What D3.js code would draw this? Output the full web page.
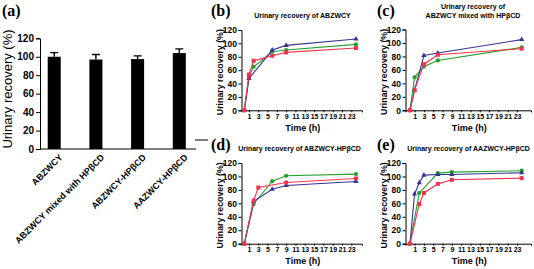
<!DOCTYPE html>
<html>
<head>
<meta charset="utf-8">
<script src="https://cdn.jsdelivr.net/npm/d3@7"></script>
<style>
  body { margin: 0; background: #fff; }
  svg { display: block; }
  text { font-family: "Liberation Sans", Arial, sans-serif; fill: #000; }
  .serif { font-family: "Liberation Serif", "Times New Roman", serif; font-weight: bold; }
  .domain, .tick line { stroke: #000; }
</style>
</head>
<body>
<div id="chart"></div>
<script>
// bar panel (a)
var barLabels = ["ABZWCY", "ABZWCY mixed with HPβCD", "ABZWCY-HPβCD", "AAZWCY-HPβCD"];
var barMeans = [100, 97, 97.5, 104];
var barErrs = [4.5, 5.5, 3.5, 4.5];
var yTicks = [0, 20, 40, 60, 80, 100, 120];
var xTicks = [1, 3, 5, 7, 9, 11, 13, 15, 17, 19, 21, 23];

// time course panels (b)-(e)
var timesB = [0, 1, 2, 6, 9, 24];
var redB = [0, 53.5, 74, 81.5, 86.5, 93];
var greenB = [0, 50, 65, 87.5, 90, 98.5];
var blueB = [0, 47.5, null, 90, 97, 106.5];

var timesC = [0, 1, 3, 6, 24];
var redC = [0, 30, 68.5, 82.5, 91.5];
var greenC = [0, 49, 65, 74, 93.5];
var blueC = [0, 30, 81.5, 85, 105];

var timesD = [0, 2, 3, 6, 9, 24];
var redD = [0, 64, 83.5, null, 91, 97];
var greenD = [0, 59, null, 93, 101, 103.5];
var blueD = [0, 63, null, 81, 86.5, 92.5];

var timesE = [0, 1, 2, 3, 6, 9, 24];
var redE = [0, null, 59, 75.5, 89, 95, 97.5];
var greenE = [0, null, 75.5, null, 105, 106.5, 108.5];
var blueE = [0, 74, 90.5, 102, 103, 103, 105.5];

var RED = "#f2334f", GREEN = "#23a02a", BLUE = "#343494";

var svg = d3.select("#chart").append("svg")
    .attr("width", 534)
    .attr("height", 269);

// ---------- panel (a) ----------
var xBand = d3.scaleBand()
    .domain(barLabels)
    .range([40, 193.5])
    .paddingInner(0.688)
    .paddingOuter(0.185);
var yBar = d3.scaleLinear().domain([0, 120]).range([149, 38.3]);

var gA = svg.append("g");
gA.append("g")
    .attr("transform", "translate(40,0)")
    .call(d3.axisLeft(yBar).tickValues(yTicks).tickSize(4).tickPadding(2))
    .call(g => g.selectAll("text").style("font-size", "10px").style("font-weight", "bold"));
gA.append("line")
    .attr("x1", 40).attr("x2", 196)
    .attr("y1", yBar(0)).attr("y2", yBar(0))
    .attr("stroke", "#000");

// error bars (up only)
gA.selectAll(".err")
    .data(barLabels)
    .enter().append("path")
    .attr("d", (d, i) => {
        var cx = xBand(d) + xBand.bandwidth() / 2;
        var top = yBar(barMeans[i] + barErrs[i]);
        return `M${cx},${yBar(barMeans[i])}V${top}M${cx - 4},${top}H${cx + 4}`;
    })
    .attr("stroke", "#000")
    .attr("stroke-width", 1.4)
    .attr("fill", "none");

gA.selectAll(".bar")
    .data(barLabels)
    .enter().append("rect")
    .attr("x", d => xBand(d))
    .attr("y", (d, i) => yBar(barMeans[i]))
    .attr("width", xBand.bandwidth())
    .attr("height", (d, i) => yBar(0) - yBar(barMeans[i]))
    .attr("fill", "#000");

gA.selectAll(".xlab")
    .data(barLabels)
    .enter().append("text")
    .attr("transform", d => `translate(${xBand(d) + xBand.bandwidth() / 2 + 9},158) rotate(-45)`)
    .attr("text-anchor", "end")
    .style("font-size", "9px")
    .style("font-weight", "bold")
    .text(d => d);

gA.append("text")
    .attr("transform", "translate(12,89) rotate(-90)")
    .attr("text-anchor", "middle")
    .style("font-size", "13px")
    .text("Urinary recovery (%)");

gA.append("text")
    .attr("class", "serif")
    .attr("x", 2).attr("y", 16)
    .style("font-size", "16px")
    .text("(a)");

// ---------- panels (b)-(e) ----------
function drawPanel(p) {
    var g = svg.append("g");
    var x = d3.scaleLinear().domain(p.xDomain).range([p.left, p.right]);
    var y = d3.scaleLinear().domain([0, 120]).range([p.y0, p.y120]);

    g.append("g")
        .attr("transform", `translate(${p.left},0)`)
        .call(d3.axisLeft(y).tickValues(yTicks).tickSize(3).tickPadding(1.5))
        .call(a => a.selectAll("text").style("font-size", "8.5px").style("font-weight", "bold"));

    g.append("g")
        .attr("transform", `translate(0,${p.y0})`)
        .call(d3.axisBottom(x).tickValues(xTicks).tickSize(2).tickPadding(1.5))
        .call(a => a.selectAll("text").style("font-size", "7px").style("font-weight", "bold"));

    var series = [
        { vals: p.green, color: GREEN, shape: d3.symbolCircle, size: 14 },
        { vals: p.blue, color: BLUE, shape: d3.symbolTriangle, size: 12 },
        { vals: p.red, color: RED, shape: d3.symbolSquare, size: 16 }
    ];
    series.forEach(s => {
        var pts = p.times.map((t, i) => [t, s.vals[i]]);
        g.append("path")
            .datum(pts)
            .attr("fill", "none")
            .attr("stroke", s.color)
            .attr("stroke-width", 1.1)
            .attr("d", d3.line()
                .defined(d => d[1] != null)
                .x(d => x(d[0]))
                .y(d => y(d[1]))(pts.filter(d => d[1] != null)));
        g.selectAll(null)
            .data(pts.filter(d => d[1] != null))
            .enter().append("path")
            .attr("transform", d => `translate(${x(d[0])},${y(d[1])})`)
            .attr("d", d3.symbol().type(s.shape).size(s.size))
            .attr("fill", s.color);
    });

    var cx = (p.left + p.right) / 2 + 1;
    g.append("text")
        .attr("x", cx).attr("y", p.y0 + 20.5)
        .attr("text-anchor", "middle")
        .style("font-size", "9px")
        .style("font-weight", "bold")
        .text("Time (h)");

    g.append("text")
        .attr("transform", `translate(${p.left - 19},${(p.y0 + p.y120) / 2 + 2}) rotate(-90)`)
        .attr("text-anchor", "middle")
        .style("font-size", "8.8px")
        .style("font-weight", "bold")
        .text("Urinary recovery (%)");

    p.title.forEach((t, i) => {
        g.append("text")
            .attr("x", p.titleX).attr("y", p.titleY + i * 8.5)
            .attr("text-anchor", "middle")
            .style("font-size", "7px")
            .style("font-weight", "bold")
            .text(t);
    });

    g.append("text")
        .attr("class", "serif")
        .attr("x", p.labelX).attr("y", p.labelY)
        .style("font-size", "16px")
        .text(p.label);
}

drawPanel({ label: "(b)", labelX: 211, labelY: 16, title: ["Urinary recovery of ABZWCY"], titleX: 302.5, titleY: 18,
    left: 241.5, right: 362, y0: 110.3, y120: 30, xDomain: [-0.6, 25.3],
    times: timesB, red: redB, green: greenB, blue: blueB });
drawPanel({ label: "(c)", labelX: 377, labelY: 16, title: ["Urinary recovery of", "ABZWCY mixed with HPβCD"], titleX: 473, titleY: 9,
    left: 405.5, right: 531, y0: 110.3, y120: 29.5, xDomain: [-0.95, 26],
    times: timesC, red: redC, green: greenC, blue: blueC });
drawPanel({ label: "(d)", labelX: 211, labelY: 150, title: ["Urinary recovery of ABZWCY-HPβCD"], titleX: 299.5, titleY: 150.5,
    left: 241.5, right: 362, y0: 243.7, y120: 163, xDomain: [-0.6, 25.3],
    times: timesD, red: redD, green: greenD, blue: blueD });
drawPanel({ label: "(e)", labelX: 377, labelY: 150, title: ["Urinary recovery of AAZWCY-HPβCD"], titleX: 468.5, titleY: 150.5,
    left: 405.5, right: 531, y0: 243.7, y120: 163, xDomain: [-0.95, 26],
    times: timesE, red: redE, green: greenE, blue: blueE });

// small stray line left of (d)
svg.append("line")
    .attr("x1", 195).attr("x2", 208)
    .attr("y1", 140).attr("y2", 140)
    .attr("stroke", "#000");
</script>
</body>
</html>
